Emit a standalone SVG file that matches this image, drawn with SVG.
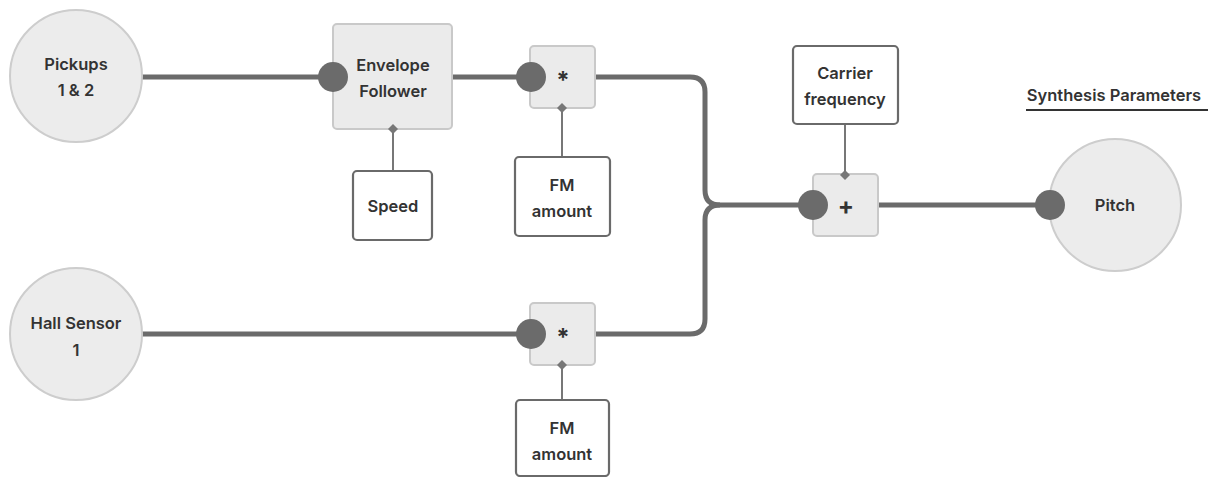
<svg xmlns="http://www.w3.org/2000/svg" width="1215" height="477" viewBox="0 0 1215 477">
<style>
.bg{fill:#ffffff}
.src{fill:#ececec;stroke:#cdcdcd;stroke-width:2}
.op{fill:#ebebeb;stroke:#c9c9c9;stroke-width:2}
.param{fill:#ffffff;stroke:#6a6a6a;stroke-width:2.2}
.t{font-family:Inter,"Liberation Sans",sans-serif;font-weight:600;font-size:16.5px;fill:#333333;text-anchor:middle}
.sym{font-family:Inter,"Liberation Sans",sans-serif;font-weight:700;font-size:24px;fill:#333333;text-anchor:middle}
.wire{fill:none;stroke:#6b6b6b;stroke-width:5}
.ctl{fill:none;stroke:#777777;stroke-width:2}
.dot{fill:#6b6b6b}
.dia{fill:#777777}
</style>
<rect class="bg" x="0" y="0" width="1215" height="477"/>
<g id="connectors">
<path class="wire" d="M142 77 H333"/>
<path class="wire" d="M452 77 H531"/>
<path class="wire" d="M595 77 H690 Q705 77 705 92 V190 Q705 205 720 205 H813"/>
<path class="wire" d="M142 334 H531"/>
<path class="wire" d="M595 334 H690 Q705 334 705 319 V220 Q705 205 720 205"/>
<path class="wire" d="M878 205 H1050"/>
<path class="ctl" d="M393 129 V171"/>
<path class="ctl" d="M562 108 V157"/>
<path class="ctl" d="M845 124 V175"/>
<path class="ctl" d="M562 365 V400"/>
</g>
<g id="pickups">
<circle class="src" cx="76" cy="76" r="66"/>
<text class="t" x="76" y="70">Pickups</text>
<text class="t" x="76" y="96">1 &amp; 2</text>
</g>
<g id="hall-sensor">
<circle class="src" cx="76" cy="334" r="66"/>
<text class="t" x="76" y="329">Hall Sensor</text>
<text class="t" x="76" y="356">1</text>
</g>
<g id="envelope-follower">
<rect class="op" x="333" y="24" width="119" height="105" rx="4"/>
<text class="t" x="393" y="71">Envelope</text>
<text class="t" x="393" y="97">Follower</text>
<circle class="dot" cx="333" cy="77" r="15"/>
<path class="dia" d="M393 124 L398 129 L393 134 L388 129 Z"/>
</g>
<g id="speed">
<rect class="param" x="353" y="171" width="79" height="69" rx="4"/>
<text class="t" x="393" y="212">Speed</text>
</g>
<g id="multiply-top">
<rect class="op" x="530" y="46" width="65" height="62" rx="4"/>
<text class="sym" x="563" y="89">*</text>
<circle class="dot" cx="531" cy="77" r="15"/>
<path class="dia" d="M562 103 L567 108 L562 113 L557 108 Z"/>
</g>
<g id="fm-amount-top">
<rect class="param" x="515" y="157" width="95" height="79" rx="4"/>
<text class="t" x="562" y="191">FM</text>
<text class="t" x="562" y="217">amount</text>
</g>
<g id="multiply-bottom">
<rect class="op" x="530" y="303" width="65" height="62" rx="4"/>
<text class="sym" x="563" y="346">*</text>
<circle class="dot" cx="531" cy="334" r="15"/>
<path class="dia" d="M562 360 L567 365 L562 370 L557 365 Z"/>
</g>
<g id="fm-amount-bottom">
<rect class="param" x="516" y="400" width="93" height="76" rx="4"/>
<text class="t" x="562" y="434">FM</text>
<text class="t" x="562" y="460">amount</text>
</g>
<g id="carrier-frequency">
<rect class="param" x="793" y="46" width="105" height="78" rx="4"/>
<text class="t" x="845" y="79">Carrier</text>
<text class="t" x="845" y="105">frequency</text>
</g>
<g id="add">
<rect class="op" x="813" y="174" width="65" height="62" rx="4"/>
<text class="sym" x="846" y="214">+</text>
<circle class="dot" cx="813" cy="205" r="15"/>
<path class="dia" d="M845 170 L850 175 L845 180 L840 175 Z"/>
</g>
<g id="pitch">
<circle class="src" cx="1115" cy="205" r="66"/>
<text class="t" x="1115" y="211">Pitch</text>
<circle class="dot" cx="1050" cy="205" r="15"/>
</g>
<g id="synthesis-parameters">
<text class="t" x="1114" y="101">Synthesis Parameters</text>
<path d="M1026 110 H1208" stroke="#333333" stroke-width="2"/>
</g>
</svg>
